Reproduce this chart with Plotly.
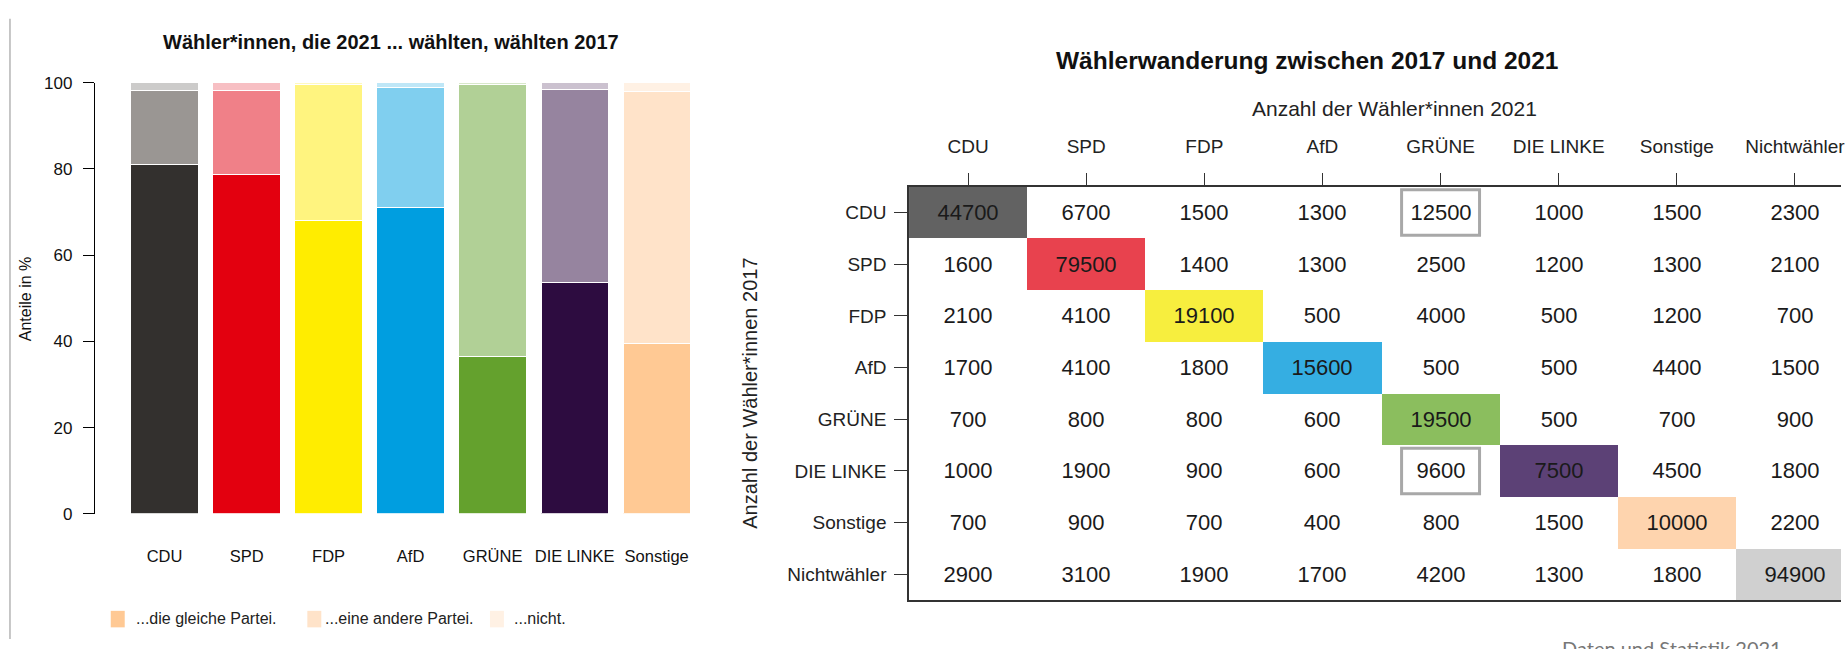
import plotly.graph_objects as go

# ---- data: left panel (shares in %) ----
parties = ["CDU", "SPD", "FDP", "AfD", "GRÜNE", "DIE LINKE", "Sonstige"]
same_party = [81.0, 78.8, 68.0, 71.0, 36.5, 53.7, 39.5]
other_party = [17.1, 19.5, 31.7, 28.0, 63.0, 44.8, 58.5]
did_not_vote = [1.9, 1.7, 0.3, 1.0, 0.5, 1.5, 2.0]
legend_labels = ["...die gleiche Partei.", "...eine andere Partei.", "...nicht."]

# ---- data: right panel (voter flows) ----
groups = ["CDU", "SPD", "FDP", "AfD", "GRÜNE", "DIE LINKE", "Sonstige", "Nichtwähler"]
flows = [
    [44700, 6700, 1500, 1300, 12500, 1000, 1500, 2300],
    [1600, 79500, 1400, 1300, 2500, 1200, 1300, 2100],
    [2100, 4100, 19100, 500, 4000, 500, 1200, 700],
    [1700, 4100, 1800, 15600, 500, 500, 4400, 1500],
    [700, 800, 800, 600, 19500, 500, 700, 900],
    [1000, 1900, 900, 600, 9600, 7500, 4500, 1800],
    [700, 900, 700, 400, 800, 1500, 10000, 2200],
    [2900, 3100, 1900, 1700, 4200, 1300, 1800, 94900],
]
highlight = [("CDU", "GRÜNE"), ("DIE LINKE", "GRÜNE")]

# colours
col_same = ["#33302e", "#e3000f", "#ffed00", "#009ee0", "#64a12d", "#2d0c40", "#ffc994"]
col_other = ["#9a9693", "#f08088", "#fff47f", "#80cfef", "#b1d096", "#96849f", "#ffe3c9"]
col_none = ["#cccbca", "#f7bfc3", "#fff9bf", "#bfe7f7", "#d8e8ca", "#cbc1cf", "#fff1e4"]
diag_cols = ["#ffffff", "#626262", "#e8424e", "#f7ee3e", "#35aee2",
             "#8bbe5e", "#5c4176", "#fed4ae", "#d0d0d0"]

W, H = 1845, 649
FONT = "Liberation Sans, Arial, sans-serif"


def px(x):
    return x / W


def py(y):
    return 1 - y / H


fig = go.Figure()

for vals, cols in [(same_party, col_same), (other_party, col_other), (did_not_vote, col_none)]:
    fig.add_trace(go.Bar(x=parties, y=vals, xaxis="x", yaxis="y",
                         marker=dict(color=cols, line=dict(color="white", width=1)),
                         hoverinfo="skip", showlegend=False))

# diagonal colour index for the matrix
z = [[(i + 1) if i == j else 0 for j in range(len(groups))] for i in range(len(groups))]
scale = [[k / 8, c] for k, c in enumerate(diag_cols)]
fig.add_trace(go.Heatmap(x=groups, y=groups, z=z, zmin=0, zmax=8, colorscale=scale,
                         showscale=False, xaxis="x2", yaxis="y2",
                         text=[[str(v) for v in row] for row in flows],
                         texttemplate="%{text}",
                         textfont=dict(family=FONT, size=22, color="#1a1a1a"),
                         hoverinfo="skip"))

shapes = []
for r, c in highlight:
    ri, ci = groups.index(r), groups.index(c)
    shapes.append(dict(type="rect", xref="x2", yref="y2",
                       x0=ci - 0.33, x1=ci + 0.33, y0=ri - 0.44, y1=ri + 0.44,
                       line=dict(color="#a8a8a8", width=3)))

# left frame line
shapes.append(dict(type="line", xref="paper", yref="paper", x0=px(10), x1=px(10),
                   y0=0, y1=py(10), line=dict(color="#b5b5b5", width=1.5)))

# legend swatches
annotations = []
leg_box = [111, 308, 491]
leg_txt = [134, 324, 513]
for bx, tx, lab, c in zip(leg_box, leg_txt, legend_labels,
                          [col_same[-1], col_other[-1], col_none[-1]]):
    shapes.append(dict(type="rect", xref="paper", yref="paper", x0=px(bx), x1=px(bx + 14),
                       y0=py(637), y1=py(620), fillcolor=c, line=dict(width=0)))
    annotations.append(dict(x=px(tx), y=py(628), xref="paper", yref="paper",
                            text=lab, showarrow=False, xanchor="left", yanchor="middle",
                            font=dict(family=FONT, size=16, color="#222")))


def label(x, y, text, size, color="#111", angle=0):
    return dict(x=px(x), y=py(y), xref="paper", yref="paper", showarrow=False,
                xanchor="center", yanchor="middle", textangle=angle, text=text,
                font=dict(family=FONT, size=size, color=color))


annotations += [
    label(392, 34, "<b>Wähler*innen, die 2021 ... wählten, wählten 2017</b>", 20),
    label(25, 298, "Anteile in %", 16, angle=-90),
    label(1310, 53, "<b>Wählerwanderung zwischen 2017 und 2021</b>", 24.5),
    label(1398, 103, "Anzahl der Wähler*innen 2021", 21, "#222"),
    label(752, 396, "Anzahl der Wähler*innen 2017", 20, "#222", -90),
    dict(x=px(1563), y=py(644), xref="paper", yref="paper", showarrow=False,
         xanchor="left", yanchor="top", text="Daten und Statistik 2021",
         font=dict(family="Lato, sans-serif", size=20, color="#777")),
]

fig.update_layout(
    width=W, height=H, margin=dict(l=0, r=0, t=0, b=0),
    paper_bgcolor="white", plot_bgcolor="white",
    barmode="stack", bargap=0.18,
    shapes=shapes, annotations=annotations,
    xaxis=dict(domain=[px(95), px(728)], range=[-0.851, 6.851], type="category",
               showline=False, ticks="", showgrid=False, zeroline=False,
               tickfont=dict(family=FONT, size=16.5, color="#111"), ticklabelstandoff=31),
    yaxis=dict(domain=[py(520), py(76)], range=[0, 100], tickvals=[0, 20, 40, 60, 80, 100],
               showline=True, linecolor="black", linewidth=1, ticks="outside", ticklen=11,
               tickcolor="black", showgrid=False, zeroline=False, ticklabelstandoff=7,
               tickfont=dict(family=FONT, size=17, color="#111")),
    xaxis2=dict(domain=[px(911), 1], range=[-0.5, 7.39], side="top", anchor="y2",
                showline=True, mirror=True, linecolor="#333", linewidth=1.5,
                ticks="outside", ticklen=12, tickcolor="#333", showgrid=False,
                zeroline=False, tickfont=dict(family=FONT, size=19, color="#222"),
                ticklabelstandoff=12),
    yaxis2=dict(domain=[py(609), py(183)], range=[7.5, -0.5], anchor="x2",
                showline=True, linecolor="#333", linewidth=1.5, ticks="outside",
                ticklen=13, tickcolor="#333", showgrid=False, zeroline=False,
                ticklabelstandoff=4,
                tickfont=dict(family=FONT, size=19, color="#222")),
)

fig.write_html("out.html", config={"displayModeBar": False},
               post_script="document.body.style.margin='0';")
